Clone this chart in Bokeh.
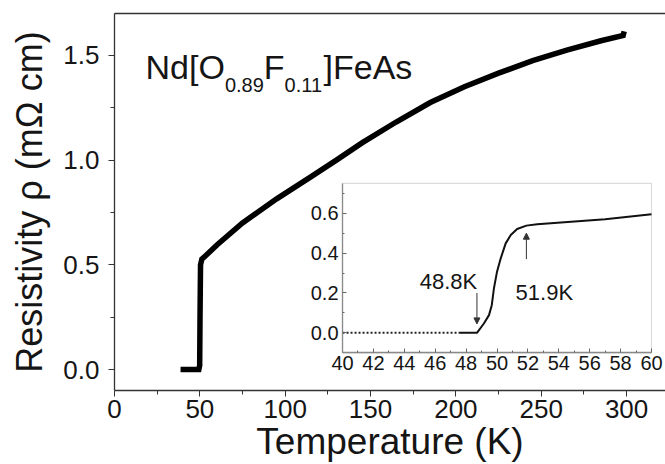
from bokeh.plotting import figure
from bokeh.models import (Range1d, LinearAxis, FixedTicker, BoxAnnotation, Label,
                          Arrow, NormalHead, PrintfTickFormatter)
from bokeh.embed import file_html
from bokeh.resources import INLINE

# ---- main curve: resistivity (mOhm cm) vs temperature (K) ----
main_T = [38.7, 49.4, 49.9, 50.1, 50.4, 51.2, 52.3, 60.0, 75.0, 95.0, 115.0, 130.0,
          145.0, 165.0, 185.0, 205.0, 225.0, 245.0, 265.0, 285.0, 298.0, 298.6]
main_rho = [0.0, 0.0, 0.02, 0.25, 0.50, 0.528, 0.535, 0.595, 0.700, 0.815, 0.920, 1.000,
            1.082, 1.182, 1.275, 1.350, 1.415, 1.475, 1.525, 1.570, 1.595, 1.615]

# ---- inset: transition region ----
inset_T = [40.0, 42.0, 44.0, 46.0, 47.6, 48.0, 48.7, 49.15, 49.48, 49.66, 49.8, 50.0, 50.24,
           50.56, 50.89, 51.3, 51.9, 52.6, 54.8, 57.0, 60.0]
inset_rho = [0.0, 0.0, 0.0, 0.0, 0.0, 0.0, 0.0, 0.047, 0.089, 0.139, 0.223, 0.307, 0.374,
             0.449, 0.491, 0.521, 0.538, 0.545, 0.558, 0.570, 0.595]

# ---- ticks ----
main_x_ticks = [0, 50, 100, 150, 200, 250, 300]
main_x_minor = [25, 75, 125, 175, 225, 275]
main_y_ticks = [0.0, 0.5, 1.0, 1.5]
main_y_minor = [0.25, 0.75, 1.25]
inset_x_ticks = [40, 42, 44, 46, 48, 50, 52, 54, 56, 58, 60]
inset_x_minor = [41, 43, 45, 47, 49, 51, 53, 55, 57, 59]
inset_y_ticks = [0.0, 0.2, 0.4, 0.6]
inset_y_minor = [0.1, 0.3, 0.5, 0.7]

# ---- annotations ----
tc_zero = 48.8
tc_onset = 51.9
tc_zero_label = "48.8K"
tc_onset_label = "51.9K"
x_title = "Temperature (K)"
y_title = "Resistivity \u03c1 (m\u03a9 cm)"
formula_parts = ["Nd[O", "0.89", "F", "0.11", "]FeAs"]

FONT = "Liberation Sans"
INK = "#151515"

main_x = (0, 322.8)
main_y = (-0.1, 1.70)
inset_x = (40, 60)
inset_y = (-0.1, 0.75)
# placement of the inset frame expressed in main-axes coordinates
inset_place_x = (133.6, 314.6)
inset_place_y = (0.080, 0.889)

p = figure(width=665, height=464, x_range=Range1d(*main_x), y_range=Range1d(*main_y),
           output_backend="svg", toolbar_location=None,
           min_border_left=114, min_border_top=13, min_border_right=0, min_border_bottom=0,
           background_fill_color="white", border_fill_color="white")
p.outline_line_color = None
p.xgrid.visible = False
p.ygrid.visible = False

def style_axis(ax, size):
    ax.axis_line_color = "#333333"
    ax.axis_line_width = 1.3
    ax.major_tick_line_color = "#333333"
    ax.minor_tick_line_color = "#333333"
    ax.major_label_text_font = FONT
    ax.major_label_text_color = INK
    ax.major_label_text_font_size = size
    ax.axis_label_text_font = FONT
    ax.axis_label_text_font_style = "normal"
    ax.axis_label_text_color = INK

xa = p.xaxis[0]
style_axis(xa, "26px")
xa.ticker = FixedTicker(ticks=main_x_ticks, minor_ticks=main_x_minor)
xa.major_tick_in = 0
xa.major_tick_out = 6
xa.minor_tick_in = 0
xa.minor_tick_out = 4
xa.major_label_standoff = 3
xa.axis_label = x_title
xa.axis_label_text_font_size = "37px"
xa.axis_label_standoff = 0

ya = p.yaxis[0]
style_axis(ya, "26px")
ya.ticker = FixedTicker(ticks=main_y_ticks, minor_ticks=main_y_minor)
ya.formatter = PrintfTickFormatter(format="%.1f")
ya.major_tick_in = 0
ya.major_tick_out = 6
ya.minor_tick_in = 0
ya.minor_tick_out = 4
ya.major_label_standoff = 9
ya.axis_label = y_title
ya.axis_label_text_font_size = "36px"
ya.axis_label_standoff = 10

top = LinearAxis(ticker=FixedTicker(ticks=[]), major_tick_line_color=None,
                 minor_tick_line_color=None, axis_line_color="#333333", axis_line_width=1.3)
p.add_layout(top, "above")

# extra ranges so the inset's own data scale maps onto its frame
kx = (inset_x[1] - inset_x[0]) / (inset_place_x[1] - inset_place_x[0])
ky = (inset_y[1] - inset_y[0]) / (inset_place_y[1] - inset_place_y[0])
p.extra_x_ranges = {"ix": Range1d(inset_x[0] - (inset_place_x[0] - main_x[0]) * kx,
                                  inset_x[1] + (main_x[1] - inset_place_x[1]) * kx)}
p.extra_y_ranges = {"iy": Range1d(inset_y[0] - (inset_place_y[0] - main_y[0]) * ky,
                                  inset_y[1] + (main_y[1] - inset_place_y[1]) * ky)}

box = BoxAnnotation(left=inset_x[0], right=inset_x[1], bottom=inset_y[0], top=inset_y[1],
                    x_range_name="ix", y_range_name="iy", fill_color="white", fill_alpha=1.0,
                    line_color="#8a8a8a", line_width=1.2, level="underlay")
p.add_layout(box)

ixa = LinearAxis(x_range_name="ix", y_range_name="iy", fixed_location=inset_y[0],
                 bounds=inset_x, ticker=FixedTicker(ticks=inset_x_ticks, minor_ticks=inset_x_minor))
style_axis(ixa, "20px")
ixa.axis_line_color = "#8a8a8a"
ixa.major_tick_in = 4
ixa.major_tick_out = 0
ixa.minor_tick_in = 2
ixa.minor_tick_out = 0
ixa.major_tick_line_color = "#666666"
ixa.minor_tick_line_color = "#666666"
ixa.major_label_standoff = 3
p.add_layout(ixa, "below")

iya = LinearAxis(x_range_name="ix", y_range_name="iy", fixed_location=inset_x[0],
                 bounds=inset_y, ticker=FixedTicker(ticks=inset_y_ticks, minor_ticks=inset_y_minor),
                 formatter=PrintfTickFormatter(format="%.1f"))
style_axis(iya, "20px")
iya.axis_line_color = "#8a8a8a"
iya.major_tick_in = 4
iya.major_tick_out = 0
iya.minor_tick_in = 2
iya.minor_tick_out = 0
iya.major_tick_line_color = "#666666"
iya.minor_tick_line_color = "#666666"
iya.major_label_standoff = 4
p.add_layout(iya, "left")

# curves
p.line(main_T, main_rho, line_width=5.5, color="black", line_join="miter")
# zero-resistance part looks dotted in the original, the rest solid
p.line(inset_T[:5], inset_rho[:5], x_range_name="ix", y_range_name="iy",
       line_width=2.0, color="#222222", line_dash="2 2")
p.line(inset_T[4:], inset_rho[4:], x_range_name="ix", y_range_name="iy",
       line_width=2.0, color="#111111")

# arrows in the inset
p.add_layout(Arrow(end=NormalHead(size=6, fill_color="#333333", line_color="#333333"),
                   x_start=tc_zero - 0.1, y_start=0.20, x_end=tc_zero - 0.1, y_end=0.045,
                   x_range_name="ix", y_range_name="iy", line_color="#333333", line_width=1))
p.add_layout(Arrow(end=NormalHead(size=6, fill_color="#333333", line_color="#333333"),
                   x_start=tc_onset, y_start=0.37, x_end=tc_onset, y_end=0.50,
                   x_range_name="ix", y_range_name="iy", line_color="#333333", line_width=1))
p.add_layout(Label(x=45.0, y=0.257, text=tc_zero_label, x_range_name="ix", y_range_name="iy",
                   text_font=FONT, text_font_size="22px", text_color=INK,
                   text_baseline="alphabetic", text_align="left"))
p.add_layout(Label(x=51.2, y=0.203, text=tc_onset_label, x_range_name="ix", y_range_name="iy",
                   text_font=FONT, text_font_size="22px", text_color=INK,
                   text_baseline="alphabetic", text_align="left"))

# chemical formula with subscripts
BIG, SMALL = 34, 20
adv = {"N": .722, "d": .556, "[": .278, "O": .778, "0": .556, ".": .278, "8": .556,
       "9": .556, "1": .556, "F": .611, "]": .278, "e": .556, "A": .667, "s": .5}
fx, fy = 18.2, 1.444
off = 0.0
for i, part in enumerate(formula_parts):
    sub = i in (1, 3)
    fs = SMALL if sub else BIG
    p.add_layout(Label(x=fx, y=fy, x_offset=off, y_offset=-18 if sub else 0, text=part,
                       text_font=FONT, text_font_size=f"{fs}px", text_color=INK,
                       text_baseline="alphabetic", text_align="left"))
    off += sum(adv[c] for c in part) * fs

open("out.html", "w").write(file_html(p, INLINE))
